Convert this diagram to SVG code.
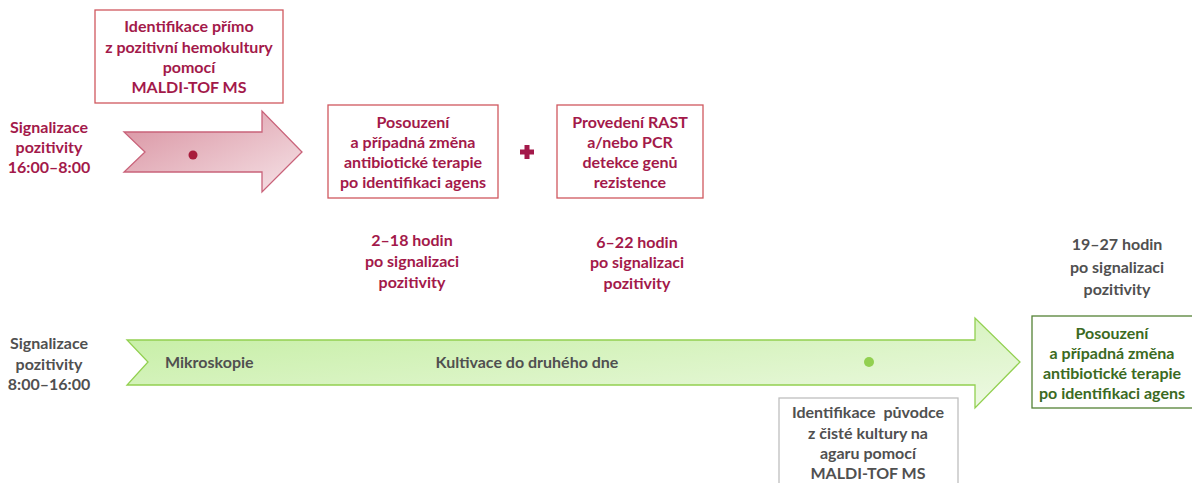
<svg xmlns="http://www.w3.org/2000/svg" width="1192" height="483" viewBox="0 0 1192 483">
<defs>
<linearGradient id="gRed" x1="0" y1="0" x2="1" y2="1">
<stop offset="0" stop-color="#d8909f"/>
<stop offset="1" stop-color="#f6e3e7"/>
</linearGradient>
<linearGradient id="gGreen" x1="0" y1="0" x2="1" y2="1">
<stop offset="0" stop-color="#c3eea0"/>
<stop offset="1" stop-color="#eef9e4"/>
</linearGradient>
<style>
text{font-family:Lato,"Liberation Sans",sans-serif;font-weight:bold;font-size:16px;text-anchor:middle}
.r{fill:#a3194a}
.g{fill:#505050}
.dg{fill:#3b6a22}
.rb{fill:#fff;stroke:#d0585f;stroke-width:1.3}
.gb{fill:#fff;stroke:#bfbfbf;stroke-width:1.3}
.grb{fill:#fff;stroke:#548235;stroke-width:1.3}
</style>
</defs>
<g id="connectors">
<path d="M124,132 L262,132 L262,111 L302,152 L262,192 L262,172 L124,172 L145,152 Z" fill="url(#gRed)" stroke="#c9637a" stroke-width="1.3"/>
<circle cx="193" cy="155" r="4.5" fill="#a81c3c"/>
<path d="M127,340 L975,340 L975,318 L1020,362 L975,408 L975,385 L127,385 L148,362 Z" fill="url(#gGreen)" stroke="#92d050" stroke-width="1.3"/>
<circle cx="869" cy="362" r="5" fill="#92d050"/>
<path d="M520,152 L534,152 M527,145 L527,159" stroke="#a3194a" stroke-width="5"/>
</g>
<g id="label-top-left">
<text class="r" x="49" y="133">Signalizace</text>
<text class="r" x="49" y="153">pozitivity</text>
<text class="r" x="49" y="173">16:00–8:00</text>
</g>
<g id="label-bottom-left">
<text class="g" x="49" y="349">Signalizace</text>
<text class="g" x="49" y="370">pozitivity</text>
<text class="g" x="49" y="390">8:00–16:00</text>
</g>
<g id="box-maldi-direct">
<rect class="rb" x="95" y="10" width="188" height="93"/>
<text class="r" x="189" y="32">Identifikace přímo</text>
<text class="r" x="189" y="53">z pozitivní hemokultury</text>
<text class="r" x="189" y="73">pomocí</text>
<text class="r" x="189" y="93">MALDI-TOF MS</text>
</g>
<g id="box-assess-1">
<rect class="rb" x="328" y="105" width="170" height="93"/>
<text class="r" x="413" y="128">Posouzení</text>
<text class="r" x="413" y="148">a případná změna</text>
<text class="r" x="413" y="168">antibiotické terapie</text>
<text class="r" x="413" y="188">po identifikaci agens</text>
</g>
<g id="box-rast">
<rect class="rb" x="557" y="105" width="146" height="93"/>
<text class="r" x="630" y="128">Provedení RAST</text>
<text class="r" x="630" y="148">a/nebo PCR</text>
<text class="r" x="630" y="168">detekce genů</text>
<text class="r" x="630" y="188">rezistence</text>
</g>
<g id="time-1">
<text class="r" x="412" y="246">2–18 hodin</text>
<text class="r" x="412" y="267">po signalizaci</text>
<text class="r" x="412" y="288">pozitivity</text>
</g>
<g id="time-2">
<text class="r" x="637" y="248">6–22 hodin</text>
<text class="r" x="637" y="268">po signalizaci</text>
<text class="r" x="637" y="289">pozitivity</text>
</g>
<g id="time-3">
<text class="g" x="1117" y="250">19–27 hodin</text>
<text class="g" x="1117" y="273">po signalizaci</text>
<text class="g" x="1117" y="295">pozitivity</text>
</g>
<g id="label-arrow">
<text class="g" x="165" y="368" style="text-anchor:start">Mikroskopie</text>
<text class="g" x="527" y="368">Kultivace do druhého dne</text>
</g>
<g id="box-maldi-culture">
<rect class="gb" x="779" y="398" width="179" height="95"/>
<text class="g" x="868" y="418">Identifikace&#160; původce</text>
<text class="g" x="868" y="439">z čisté kultury na</text>
<text class="g" x="868" y="459">agaru pomocí</text>
<text class="g" x="868" y="479">MALDI-TOF MS</text>
</g>
<g id="box-assess-2">
<rect class="grb" x="1032" y="316" width="165" height="92"/>
<text class="dg" x="1112" y="339">Posouzení</text>
<text class="dg" x="1112" y="359">a případná změna</text>
<text class="dg" x="1112" y="379">antibiotické terapie</text>
<text class="dg" x="1112" y="399">po identifikaci agens</text>
</g>
</svg>
